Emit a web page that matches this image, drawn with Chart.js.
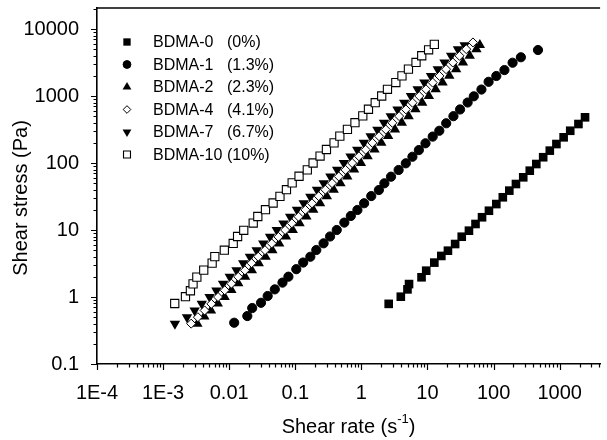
<!DOCTYPE html>
<html>
<head>
<meta charset="utf-8">
<script src="https://cdn.jsdelivr.net/npm/chart.js@4.4.0/dist/chart.umd.min.js"></script>
<style>
  html, body { margin: 0; padding: 0; background: #fff; }
</style>
</head>
<body>
<canvas id="myChart" width="607" height="440"></canvas>
<script>
// tick labels
const xTickValues = [1e-4, 1e-3, 1e-2, 1e-1, 1, 10, 100, 1000];
const xTickLabels = ["1E-4", "1E-3", "0.01", "0.1", "1", "10", "100", "1000"];
const yTickValues = [0.1, 1, 10, 100, 1000, 10000];
const yTickLabels = ["0.1", "1", "10", "100", "1000", "10000"];

const seriesNames = ["BDMA-0", "BDMA-1", "BDMA-2", "BDMA-4", "BDMA-7", "BDMA-10"];
const seriesPercent = ["(0%)", "(1.3%)", "(2.3%)", "(4.1%)", "(6.7%)", "(10%)"];

// shear rate (1/s) and shear stress (Pa)
const bdma0Rate = [2.59, 3.95, 4.98, 5.26, 8.13, 9.57, 12.7, 16.2, 20.4, 26.2, 33.0, 42.4, 53.3, 66.9, 85.1, 110, 138, 173, 218, 281, 353, 443, 563, 709, 893, 1148, 1445, 1923, 2420];
const bdma0Stress = [0.79, 1.01, 1.30, 1.56, 1.97, 2.47, 3.26, 4.10, 4.91, 6.18, 7.94, 9.77, 12.3, 15.5, 19.4, 24.4, 30.8, 38.7, 48.6, 61.2, 76.8, 96.6, 122, 153, 192, 242, 303, 382, 481];

const bdma1Rate = [0.0119, 0.0188, 0.0223, 0.0303, 0.0382, 0.049, 0.064, 0.0787, 0.1035, 0.1316, 0.169, 0.208, 0.268, 0.336, 0.424, 0.552, 0.692, 0.871, 1.10, 1.41, 1.84, 2.23, 2.81, 3.66, 4.70, 5.92, 7.41, 9.33, 12.0, 15.1, 19.2, 24.7, 31.1, 40.5, 50.2, 65.5, 84.1, 110, 146, 194, 259, 470];
const bdma1Stress = [0.413, 0.52, 0.685, 0.82, 1.035, 1.30, 1.64, 2.01, 2.60, 3.27, 3.99, 5.03, 6.33, 8.0, 10.0, 12.9, 16.2, 19.9, 25.1, 32.1, 39.5, 49.8, 62.5, 78.7, 99, 124, 156, 197, 248, 303, 392, 500, 630, 800, 990, 1250, 1630, 1990, 2440, 3140, 3790, 4860];

const bdma2Rate = [0.00330, 0.00420, 0.00530, 0.00672, 0.00852, 0.0108, 0.0137, 0.0174, 0.0220, 0.0280, 0.0355, 0.0450, 0.0570, 0.0722, 0.0915, 0.116, 0.147, 0.187, 0.237, 0.300, 0.381, 0.482, 0.611, 0.775, 0.983, 1.24, 1.58, 2.00, 2.54, 3.22, 4.09, 5.18, 6.57, 8.32, 10.5, 13.3, 16.9, 21.4, 27.1, 34.4, 43.6, 55.0, 62.0];
const bdma2Stress = [0.40, 0.51, 0.63, 0.80, 1.0, 1.27, 1.6, 2.0, 2.5, 3.2, 4.0, 5.0, 6.3, 8.0, 10, 12.6, 15.9, 20, 25, 32, 40, 50, 63, 80, 100, 126, 159, 200, 252, 317, 400, 500, 632, 795, 1000, 1260, 1590, 2000, 2510, 3160, 3980, 5000, 5770];

const bdma4Rate = [0.00266, 0.00336, 0.00425, 0.00537, 0.00678, 0.00857, 0.0108, 0.0137, 0.0173, 0.0218, 0.0275, 0.0348, 0.0440, 0.0556, 0.0702, 0.0887, 0.112, 0.142, 0.179, 0.226, 0.285, 0.360, 0.455, 0.575, 0.726, 0.918, 1.16, 1.47, 1.85, 2.34, 2.95, 3.73, 4.71, 5.95, 7.52, 9.5, 12.0, 15.2, 19.1, 24.2, 30.5, 38.6, 48.8];
const bdma4Stress = [0.40, 0.50, 0.63, 0.79, 1.0, 1.26, 1.58, 2.0, 2.5, 3.2, 4.0, 5.0, 6.3, 7.9, 10, 12.6, 15.8, 20, 25, 32, 40, 50, 63, 79, 100, 126, 158, 200, 251, 316, 398, 501, 631, 794, 1000, 1259, 1585, 1995, 2512, 3162, 3981, 5012, 6310];

const bdma7Rate = [0.00151, 0.0023, 0.00300, 0.00385, 0.00505, 0.00640, 0.00808, 0.0102, 0.0129, 0.0163, 0.0206, 0.0260, 0.0328, 0.0415, 0.0524, 0.0662, 0.0836, 0.106, 0.134, 0.169, 0.213, 0.269, 0.340, 0.430, 0.543, 0.686, 0.866, 1.09, 1.38, 1.75, 2.20, 2.78, 3.52, 4.45, 5.62, 7.10, 8.97, 11.3, 14.3, 18.1, 22.8, 28.9, 36.5];
const bdma7Stress = [0.40, 0.50, 0.63, 0.79, 1.0, 1.25, 1.58, 2.0, 2.5, 3.2, 4.0, 5.0, 6.3, 7.9, 10, 12.5, 15.8, 20, 25, 31.5, 40, 50, 63, 79, 100, 125, 158, 200, 250, 315, 398, 500, 630, 795, 1000, 1260, 1585, 1995, 2510, 3160, 3980, 5010, 5750];

const bdma10Rate = [0.0015, 0.00218, 0.00259, 0.00284, 0.00324, 0.00412, 0.00552, 0.00606, 0.00844, 0.0115, 0.0134, 0.0166, 0.0231, 0.0271, 0.0354, 0.0462, 0.0586, 0.0735, 0.0897, 0.114, 0.152, 0.186, 0.237, 0.296, 0.386, 0.472, 0.615, 0.80, 1.05, 1.28, 1.62, 2.03, 2.48, 3.32, 4.11, 5.15, 6.71, 8.19, 10.4, 12.7];
const bdma10Stress = [0.80, 1.01, 1.24, 1.57, 1.98, 2.52, 3.2, 4.0, 5.0, 6.3, 8.0, 9.9, 12.7, 15.9, 20.1, 25.3, 31.8, 40, 50.5, 63.5, 79, 100, 127, 159, 200, 252, 318, 400, 505, 635, 795, 1000, 1260, 1590, 2000, 2520, 3170, 3990, 4900, 5900];

function pts(xs, ys) {
  return xs.map((x, i) => ({ x: x, y: ys[i] }));
}

const FONT = "'Liberation Sans', Arial, Helvetica, sans-serif";

function isDecade(v) {
  const l = Math.log10(v);
  return Math.abs(l - Math.round(l)) < 1e-6;
}

function allLogTicks(min, max) {
  const out = [];
  for (let e = Math.floor(Math.log10(min)); e <= Math.ceil(Math.log10(max)); e++) {
    for (let m = 1; m <= 9; m++) {
      const v = m * Math.pow(10, e);
      if (v >= min * 0.999 && v <= max * 1.001) out.push({ value: v, major: m === 1 });
    }
  }
  return out;
}

function noPad(s) {
  s.paddingTop = 0; s.paddingBottom = 0; s.paddingLeft = 0; s.paddingRight = 0;
}

const datasets = [
  { label: seriesNames[0], data: pts(bdma0Rate, bdma0Stress), pointStyle: "rect", pointRadius: 6.1, backgroundColor: "#000", borderColor: "#000", borderWidth: 0, order: 5 },
  { label: seriesNames[1], data: pts(bdma1Rate, bdma1Stress), pointStyle: "circle", pointRadius: 4.6, backgroundColor: "#000", borderColor: "#000", borderWidth: 1, order: 4 },
  { label: seriesNames[2], data: pts(bdma2Rate, bdma2Stress), pointStyle: "triangle", pointRadius: 6, backgroundColor: "#000", borderColor: "#000", borderWidth: 0, order: 2 },
  { label: seriesNames[3], data: pts(bdma4Rate, bdma4Stress), pointStyle: "rectRot", pointRadius: 4.5, backgroundColor: "#fff", borderColor: "#000", borderWidth: 1, order: 0 },
  { label: seriesNames[4], data: pts(bdma7Rate, bdma7Stress), pointStyle: "triangle", pointRotation: 180, pointRadius: 6, backgroundColor: "#000", borderColor: "#000", borderWidth: 0, order: 3 },
  { label: seriesNames[5], data: pts(bdma10Rate, bdma10Stress), pointStyle: "rect", pointRadius: 5.8, backgroundColor: "#fff", borderColor: "#000", borderWidth: 1.1, order: 1 }
];

// tick marks, top frame, titles and legend
const decorPlugin = {
  id: "decor",
  afterDraw(chart) {
    const ctx = chart.ctx;
    const area = chart.chartArea;
    const xs = chart.scales.x, ys = chart.scales.y;
    ctx.save();
    ctx.strokeStyle = "#000";
    ctx.lineWidth = 1.2;
    ctx.beginPath();
    xs.ticks.forEach(t => {
      const px = Math.round(xs.getPixelForValue(t.value)) + 0.5;
      const len = t.major ? 6 : 3.5;
      ctx.moveTo(px, area.bottom);
      ctx.lineTo(px, area.bottom + len);
    });
    ys.ticks.forEach(t => {
      const py = Math.round(ys.getPixelForValue(t.value)) + 0.5;
      const len = t.major ? 6 : 3.5;
      ctx.moveTo(area.left, py);
      ctx.lineTo(area.left - len, py);
    });
    ctx.stroke();

    // top frame line
    ctx.lineWidth = 1.6;
    ctx.beginPath();
    ctx.moveTo(area.left, area.top);
    ctx.lineTo(area.right, area.top);
    ctx.stroke();

    // axis titles
    ctx.fillStyle = "#000";
    ctx.textBaseline = "middle";
    const t1 = "Shear rate (s", sup = "-1", t2 = ")";
    ctx.font = "20px " + FONT;
    const w1 = ctx.measureText(t1).width, w2 = ctx.measureText(t2).width;
    ctx.font = "13px " + FONT;
    const ws = ctx.measureText(sup).width;
    const tx = (area.left + area.right) / 2 - (w1 + ws + w2) / 2;
    const ty = 427;
    ctx.font = "20px " + FONT;
    ctx.textAlign = "left";
    ctx.fillText(t1, tx, ty);
    ctx.font = "13px " + FONT;
    ctx.fillText(sup, tx + w1, ty - 8);
    ctx.font = "20px " + FONT;
    ctx.fillText(t2, tx + w1 + ws, ty);

    ctx.save();
    ctx.translate(21, 198);
    ctx.rotate(-Math.PI / 2);
    ctx.textAlign = "center";
    ctx.fillText("Shear stress (Pa)", 0, 0);
    ctx.restore();

    // legend
    ctx.font = "16px " + FONT;
    ctx.textAlign = "left";
    chart.data.datasets.forEach((ds, i) => {
      const ly = 42 + i * 22.5;
      ctx.fillStyle = ds.backgroundColor;
      ctx.strokeStyle = ds.borderColor;
      ctx.lineWidth = ds.borderWidth;
      Chart.helpers.drawPoint(ctx, {
        pointStyle: ds.pointStyle,
        rotation: ds.pointRotation || 0,
        radius: ds.pointRadius * 0.85,
        borderWidth: ds.borderWidth
      }, 127, ly);
      ctx.fillStyle = "#000";
      ctx.fillText(seriesNames[i], 153, ly + 1);
      ctx.fillText(seriesPercent[i], 227, ly + 1);
    });
    ctx.restore();
  }
};

new Chart(document.getElementById("myChart").getContext("2d"), {
  type: "scatter",
  data: { datasets: datasets },
  options: {
    responsive: false,
    animation: false,
    devicePixelRatio: 1,
    layout: { padding: { top: 8, right: 0, left: 0, bottom: 0 } },
    plugins: { legend: { display: false }, tooltip: { enabled: false } },
    scales: {
      x: {
        type: "logarithmic",
        min: 1e-4,
        max: 4090,
        afterBuildTicks: s => { s.ticks = allLogTicks(1e-4, 4090); },
        afterFit: s => { s.height = 76; noPad(s); },
        grid: { display: false },
        border: { display: true, color: "#000", width: 1.6 },
        ticks: {
          autoSkip: false, maxRotation: 0, padding: 9,
          color: "#000", font: { family: FONT, size: 20 },
          callback: v => isDecade(v) ? xTickLabels[xTickValues.findIndex(t => Math.abs(Math.log10(t) - Math.log10(v)) < 1e-6)] || "" : ""
        }
      },
      y: {
        type: "logarithmic",
        min: 0.1,
        max: 20600,
        afterBuildTicks: s => { s.ticks = allLogTicks(0.1, 20600); },
        afterFit: s => { s.width = 97; noPad(s); },
        grid: { display: false },
        border: { display: true, color: "#000", width: 1.6 },
        ticks: {
          autoSkip: false, padding: 10,
          color: "#000", font: { family: FONT, size: 20 },
          callback: v => isDecade(v) ? yTickLabels[yTickValues.findIndex(t => Math.abs(Math.log10(t) - Math.log10(v)) < 1e-6)] || "" : ""
        }
      }
    }
  },
  plugins: [decorPlugin]
});
</script>
</body>
</html>
